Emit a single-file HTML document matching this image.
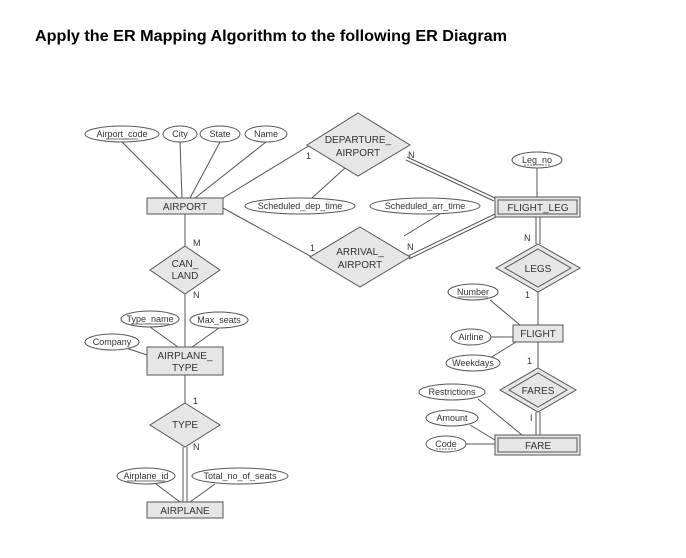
<!DOCTYPE html>
<html><head><meta charset="utf-8"><style>
html,body{margin:0;padding:0;background:#fff;width:686px;height:558px;overflow:hidden}
svg{display:block}
text{font-family:"Liberation Sans",Arial,sans-serif;fill:#333}
.a{font-size:9px}
.e{font-size:10px}
</style></head><body>
<svg width="686" height="558" viewBox="0 0 686 558" xmlns="http://www.w3.org/2000/svg">
<text x="35" y="41" style="font-size:16px;font-weight:bold;fill:#000" textLength="472" lengthAdjust="spacingAndGlyphs">Apply the ER Mapping Algorithm to the following ER Diagram</text>
<g stroke="#555" stroke-width="1" fill="none">
<!-- airport attrs -->
<line x1="122" y1="142" x2="178" y2="198"/>
<line x1="180" y1="142" x2="182" y2="198"/>
<line x1="220" y1="142" x2="190" y2="198"/>
<line x1="266" y1="142" x2="195" y2="198"/>
<line x1="223" y1="198" x2="310" y2="145"/>
<line x1="223" y1="208" x2="312" y2="257"/>
<line x1="345" y1="168" x2="312" y2="198"/>
<line x1="440" y1="214" x2="404" y2="236"/>
<line x1="185" y1="214" x2="185" y2="246"/>
<line x1="185" y1="294" x2="185" y2="347"/>
<line x1="150" y1="327" x2="178" y2="347"/>
<line x1="219" y1="328" x2="192" y2="347"/>
<line x1="126" y1="348" x2="147" y2="355"/>
<line x1="185" y1="375" x2="185" y2="403"/>
<line x1="183" y1="447" x2="183" y2="502"/><line x1="187" y1="447" x2="187" y2="502"/>
<line x1="156" y1="484" x2="180" y2="502"/>
<line x1="215" y1="484" x2="190" y2="502"/>
<!-- flight leg -->
<line x1="407" y1="157" x2="495" y2="198"/><line x1="406" y1="160" x2="494" y2="201"/>
<line x1="408" y1="256" x2="495" y2="214"/><line x1="409" y1="259" x2="496" y2="217"/>
<line x1="537" y1="168" x2="537" y2="197"/>
<line x1="536" y1="217" x2="536" y2="244"/><line x1="540" y1="217" x2="540" y2="244"/>
<line x1="538" y1="292" x2="538" y2="325"/>
<line x1="490" y1="300" x2="520" y2="325"/>
<line x1="491" y1="337" x2="513" y2="337"/>
<line x1="490" y1="358" x2="516" y2="342"/>
<line x1="538" y1="342" x2="538" y2="368"/>
<line x1="536" y1="412" x2="536" y2="435"/><line x1="540" y1="412" x2="540" y2="435"/>
<line x1="478" y1="399" x2="522" y2="435"/>
<line x1="470" y1="425" x2="495" y2="440"/>
<line x1="466" y1="444" x2="495" y2="444"/>
</g>
<g stroke="#555" stroke-width="1" fill="#fff">
<ellipse cx="122" cy="134" rx="37" ry="8"/>
<ellipse cx="180" cy="134" rx="17" ry="8"/>
<ellipse cx="220" cy="134" rx="20" ry="8"/>
<ellipse cx="266" cy="134" rx="21" ry="8"/>
<ellipse cx="300" cy="206" rx="55" ry="8"/>
<ellipse cx="425" cy="206" rx="55" ry="8"/>
<ellipse cx="537" cy="160" rx="25" ry="8"/>
<ellipse cx="473" cy="292" rx="25" ry="8"/>
<ellipse cx="471" cy="337" rx="20" ry="8"/>
<ellipse cx="473" cy="363" rx="27" ry="8"/>
<ellipse cx="452" cy="392" rx="33" ry="8"/>
<ellipse cx="452" cy="418" rx="26" ry="8"/>
<ellipse cx="446" cy="444" rx="20" ry="8"/>
<ellipse cx="150" cy="319" rx="29" ry="8"/>
<ellipse cx="219" cy="320" rx="29" ry="8"/>
<ellipse cx="112" cy="342" rx="27" ry="8"/>
<ellipse cx="146" cy="476" rx="29" ry="8"/>
<ellipse cx="240" cy="476" rx="48" ry="8"/>
</g>
<g stroke="#555" stroke-width="1" fill="#e6e6e6">
<rect x="147" y="198" width="76" height="16"/>
<rect x="147" y="347" width="76" height="28"/>
<rect x="147" y="502" width="76" height="16"/>
<rect x="495" y="197" width="85" height="20"/><rect x="498" y="200" width="79" height="14"/>
<rect x="513" y="325" width="50" height="17"/>
<rect x="495" y="435" width="85" height="20"/><rect x="498" y="438" width="79" height="14"/>
<polygon points="358,113 410,145 358,176 307,145"/>
<polygon points="360,227 410,257 360,287 310,257"/>
<polygon points="185,246 220,270 185,294 150,270"/>
<polygon points="185,403 220,425 185,447 150,425"/>
<polygon points="538,244 580,268 538,292 496,268"/><polygon points="538,249 571,268 538,287 505,268"/>
<polygon points="538,368 576,390 538,412 500,390"/><polygon points="538,373 567,390 538,407 509,390"/>
</g>
<g class="a" text-anchor="middle">
<text x="122" y="137">Airport_code</text>
<text x="180" y="137">City</text>
<text x="220" y="137">State</text>
<text x="266" y="137">Name</text>
<text x="300" y="209">Scheduled_dep_time</text>
<text x="425" y="209">Scheduled_arr_time</text>
<text x="537" y="163">Leg_no</text>
<text x="473" y="295">Number</text>
<text x="471" y="340">Airline</text>
<text x="473" y="366">Weekdays</text>
<text x="452" y="395">Restrictions</text>
<text x="452" y="421">Amount</text>
<text x="446" y="447">Code</text>
<text x="150" y="322">Type_name</text>
<text x="219" y="323">Max_seats</text>
<text x="112" y="345">Company</text>
<text x="146" y="479">Airplane_id</text>
<text x="240" y="479">Total_no_of_seats</text>
</g>
<g stroke="#444" stroke-width="0.7">
<line x1="106" y1="139" x2="138" y2="139"/>
<line x1="458" y1="297" x2="488" y2="297"/>
<line x1="131" y1="324" x2="169" y2="324"/>
<line x1="127" y1="481" x2="165" y2="481"/>
<line x1="524" y1="165" x2="550" y2="165" stroke-dasharray="2,1"/>
<line x1="436" y1="449" x2="456" y2="449" stroke-dasharray="2,1"/>
</g>
<g class="e" text-anchor="middle">
<text x="185" y="210">AIRPORT</text>
<text x="185" y="359">AIRPLANE_</text>
<text x="185" y="371">TYPE</text>
<text x="185" y="514">AIRPLANE</text>
<text x="538" y="211">FLIGHT_LEG</text>
<text x="538" y="337">FLIGHT</text>
<text x="538" y="449">FARE</text>
<text x="358" y="143">DEPARTURE_</text>
<text x="358" y="156">AIRPORT</text>
<text x="360" y="255">ARRIVAL_</text>
<text x="360" y="268">AIRPORT</text>
<text x="185" y="267">CAN_</text>
<text x="185" y="279">LAND</text>
<text x="185" y="428">TYPE</text>
<text x="538" y="272">LEGS</text>
<text x="538" y="394">FARES</text>
</g>
<g class="a">
<text x="193" y="246">M</text>
<text x="193" y="298">N</text>
<text x="193" y="404">1</text>
<text x="193" y="450">N</text>
<text x="306" y="159">1</text>
<text x="310" y="251">1</text>
<text x="408" y="158">N</text>
<text x="407" y="250">N</text>
<text x="524" y="241">N</text>
<text x="525" y="298">1</text>
<text x="527" y="364">1</text>
<text x="530" y="421">I</text>
</g>
</svg>
</body></html>
